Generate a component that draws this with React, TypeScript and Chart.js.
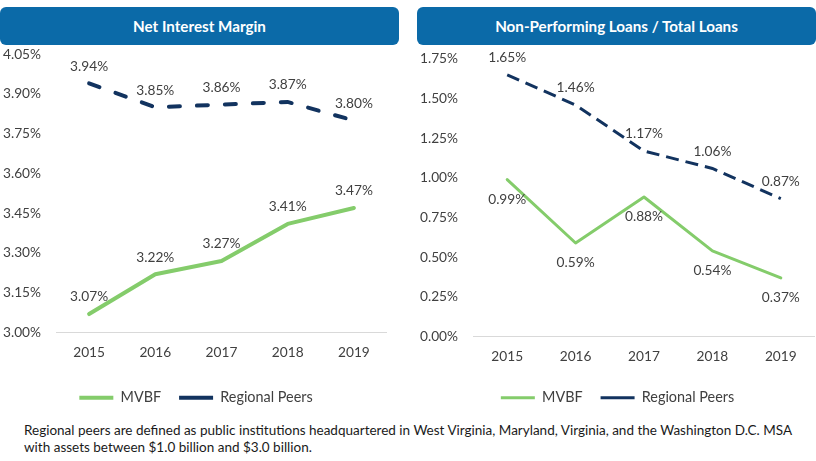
import React, { useEffect, useRef } from "react";
import { Chart, registerables } from "chart.js";

Chart.register(...registerables);

// ---- data ----
const years = ["2015", "2016", "2017", "2018", "2019"];
const nimMVBF = [3.07, 3.22, 3.27, 3.41, 3.47];
const nimPeers = [3.94, 3.85, 3.86, 3.87, 3.8];
const nplMVBF = [0.99, 0.59, 0.88, 0.54, 0.37];
const nplPeers = [1.65, 1.46, 1.17, 1.06, 0.87];
const nimAxis = [3.0, 4.05, 0.15];
const nplAxis = [0.0, 1.75, 0.25];
const seriesNames = ["MVBF", "Regional Peers"];
const titles = ["Net Interest Margin", "Non-Performing Loans / Total Loans"];
const footnote = [
  "Regional peers are defined as public institutions headquartered in West Virginia, Maryland, Virginia, and the Washington D.C. MSA",
  "with assets between $1.0 billion and $3.0 billion.",
];

const GREEN = "#84cc6b";
const NAVY = "#12335f";
const TEXT = "#404040";
const FONT = "Lato, 'Open Sans', sans-serif";
const TICK_SIZE = 13.7;
const LEGEND_SIZE = 14.4;

const labelPlugin = {
  id: "pointValueLabels",
  afterDatasetsDraw(chart: any) {
    const ctx = chart.ctx;
    chart.data.datasets.forEach((ds: any, i: number) => {
      const meta = chart.getDatasetMeta(i);
      meta.data.forEach((pt: any, j: number) => {
        ctx.save();
        ctx.font = `${TICK_SIZE}px ${FONT}`;
        ctx.fillStyle = TEXT;
        ctx.textAlign = "center";
        ctx.textBaseline = "middle";
        const dy = ds.labelPos === "below" ? 20 : -17;
        ctx.fillText(ds.data[j].toFixed(2) + "%", pt.x, pt.y + dy);
        ctx.restore();
      });
    });
  },
};

type Props = {
  left: number;
  width: number;
  mvbf: number[];
  peers: number[];
  axis: number[];
  padTop: number;
  padRight: number;
  xHeight: number;
  lineW: number;
  dash: number[];
  cap: "round" | "butt";
  mvbfLabelPos: string;
  legendShift: number;
};

function LineChart(p: Props) {
  const ref = useRef<HTMLCanvasElement | null>(null);
  useEffect(() => {
    if (!ref.current) return;
    const shiftPlugin = {
      id: "legendShift",
      afterLayout(chart: any) {
        if (chart.legend) {
          chart.legend.left += p.legendShift;
          chart.legend.right += p.legendShift;
        }
      },
    };
    const chart = new Chart(ref.current, {
      type: "line",
      data: {
        labels: years,
        datasets: [
          {
            label: seriesNames[0],
            data: p.mvbf,
            borderColor: GREEN,
            backgroundColor: GREEN,
            borderWidth: p.lineW,
            pointRadius: 0,
            tension: 0,
            borderCapStyle: "round",
            borderJoinStyle: "round",
            labelPos: p.mvbfLabelPos,
          } as any,
          {
            label: seriesNames[1],
            data: p.peers,
            borderColor: NAVY,
            backgroundColor: NAVY,
            borderWidth: p.lineW,
            borderDash: p.dash,
            borderCapStyle: p.cap,
            pointRadius: 0,
            tension: 0,
            labelPos: "above",
          } as any,
        ],
      },
      options: {
        animation: false,
        responsive: false,
        devicePixelRatio: 1,
        layout: { padding: { left: 3, top: p.padTop, right: p.padRight, bottom: 0 } },
        scales: {
          x: {
            offset: true,
            grid: { display: false, drawTicks: false },
            border: { display: false },
            ticks: { color: TEXT, font: { family: FONT, size: TICK_SIZE }, padding: 12 },
            afterFit: (s: any) => {
              s.height = p.xHeight;
            },
          },
          y: {
            min: p.axis[0],
            max: p.axis[1],
            grid: {
              drawTicks: false,
              color: (c: any) => (c.tick && Math.abs(c.tick.value - p.axis[0]) < 1e-6 ? "#d9d9d9" : "rgba(0,0,0,0)"),
            },
            border: { display: false },
            ticks: {
              stepSize: p.axis[2],
              color: TEXT,
              font: { family: FONT, size: TICK_SIZE },
              crossAlign: "far",
              padding: 0,
              callback: (v: any) => Number(v).toFixed(2) + "%",
            },
            afterFit: (s: any) => {
              s.width = 53;
            },
          },
        },
        plugins: {
          legend: {
            position: "bottom",
            labels: {
              usePointStyle: true,
              pointStyle: "line",
              pointStyleWidth: 34,
              color: TEXT,
              font: { family: FONT, size: LEGEND_SIZE },
              padding: 18,
            },
          },
          tooltip: { enabled: false },
        },
      } as any,
      plugins: [labelPlugin, shiftPlugin],
    });
    return () => chart.destroy();
  }, []);
  return (
    <canvas
      ref={ref}
      width={p.width}
      height={369}
      style={{ position: "absolute", left: p.left, top: 46, width: p.width, height: 369 }}
    />
  );
}

const headerStyle = (left: number, width: number): React.CSSProperties => ({
  position: "absolute",
  left,
  top: 7,
  width,
  height: 38,
  borderRadius: 6,
  background: "#0b6aa8",
  color: "#ffffff",
  fontFamily: FONT,
  fontWeight: 700,
  fontSize: 15.2,
  display: "flex",
  alignItems: "center",
  justifyContent: "center",
});

export default function App() {
  return (
    <div
      style={{
        position: "fixed",
        left: 0,
        top: 0,
        width: 816,
        height: 461,
        background: "#ffffff",
        overflow: "hidden",
      }}
    >
      <div style={headerStyle(0, 399)}>{titles[0]}</div>
      <div style={headerStyle(417, 399)}>{titles[1]}</div>
      <LineChart
        left={0}
        width={400}
        mvbf={nimMVBF}
        peers={nimPeers}
        axis={nimAxis}
        padTop={8}
        padRight={13}
        xHeight={40}
        lineW={4}
        dash={[11, 17]}
        cap="round"
        mvbfLabelPos="above"
        legendShift={1}
      />
      <LineChart
        left={417}
        width={399}
        mvbf={nplMVBF}
        peers={nplPeers}
        axis={nplAxis}
        padTop={13}
        padRight={1}
        xHeight={36}
        lineW={3}
        dash={[13, 7]}
        cap="butt"
        mvbfLabelPos="below"
        legendShift={0}
      />
      <div
        style={{
          position: "absolute",
          left: 24,
          top: 422,
          fontFamily: FONT,
          fontSize: 13.5,
          lineHeight: "17px",
          color: "#1a1a1a",
          whiteSpace: "nowrap",
        }}
      >
        <div>{footnote[0]}</div>
        <div>{footnote[1]}</div>
      </div>
    </div>
  );
}
